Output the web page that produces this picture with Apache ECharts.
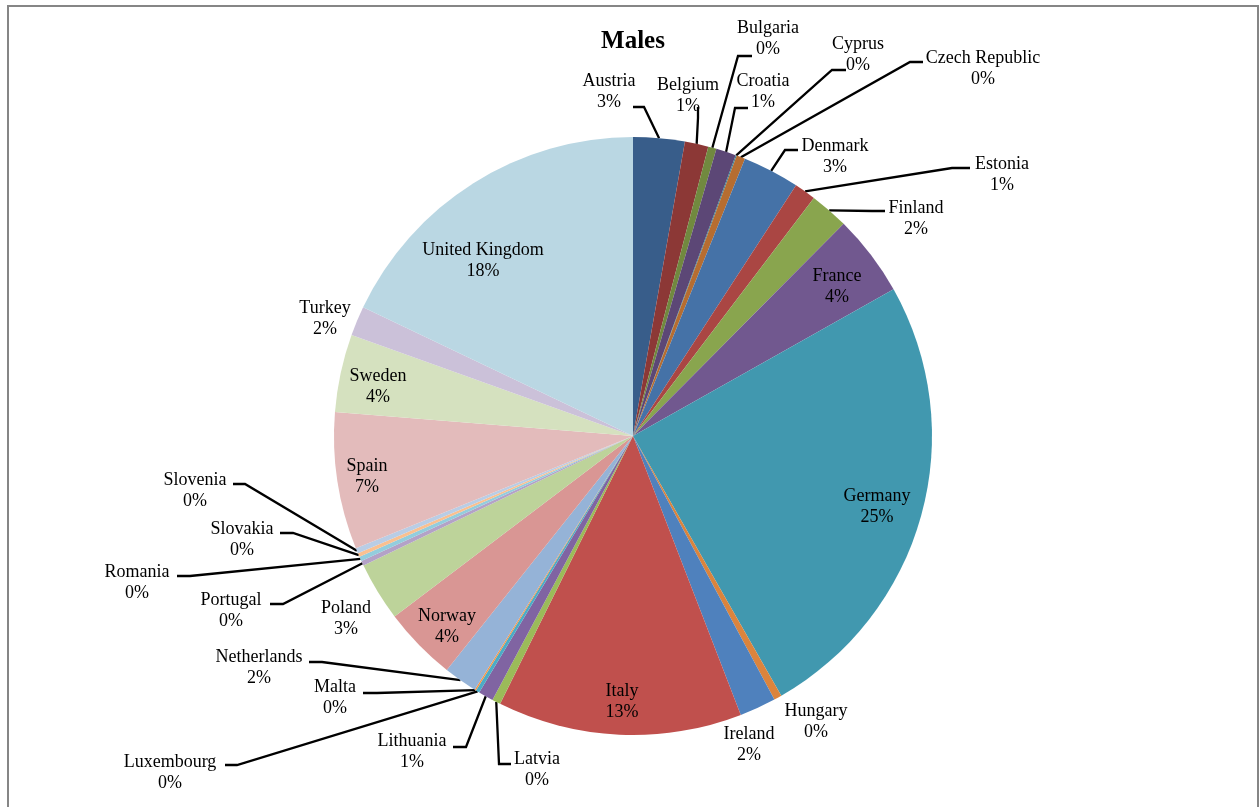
<!DOCTYPE html>
<html>
<head>
<meta charset="utf-8">
<script src="https://cdn.jsdelivr.net/npm/echarts@6/dist/echarts.min.js"></script>
<style>
html,body{margin:0;padding:0;background:#ffffff;}
#chart{width:1260px;height:807px;}
</style>
</head>
<body>
<div id="chart"></div>
<script>
// ---- data ----
const chartTitle = 'Males';
const countries = [
  'Austria','Belgium','Bulgaria','Croatia','Cyprus','Czech Republic','Denmark','Estonia','Finland','France',
  'Germany','Hungary','Ireland','Italy','Latvia','Lithuania','Luxembourg','Malta','Netherlands','Norway',
  'Poland','Portugal','Romania','Slovakia','Slovenia','Spain','Sweden','Turkey','United Kingdom'
];
const shares = [
  2.78, 1.27, 0.45, 1.08, 0.06, 0.47, 3.07, 1.16, 2.10, 4.40,
  24.90, 0.42, 1.97, 13.20, 0.46, 0.81, 0.20, 0.08, 1.82, 3.99,
  3.18, 0.26, 0.25, 0.20, 0.30, 7.40, 4.20, 1.60, 17.92
];

// ---- styles ----
const sliceColors = [
  '#385D8A','#8C3836','#71893F','#5C4776','#357D91','#B66D31',
  '#4572A7','#AA4643','#89A54E','#71588F','#4198AF','#DB843D',
  '#4F81BD','#C0504D','#9BBB59','#8064A2','#4BACC6','#F79646',
  '#95B3D7','#D99694','#BDD39A','#B3A2C7','#93CDDD','#FAC090',
  '#B9CDE5','#E3BBBB','#D5E1BF','#CBC1D9','#BAD7E3'
];
const fontFamily = '"Liberation Serif", "Times New Roman", serif';

// ---- label layout (text centres, leader line attach + bend points) ----
const labelSpots = {
  'Austria':[609,92], 'Belgium':[688,96], 'Bulgaria':[768,39], 'Croatia':[763,92],
  'Cyprus':[858,55], 'Czech Republic':[983,69], 'Denmark':[835,157], 'Estonia':[1002,175],
  'Finland':[916,219], 'France':[837,287], 'Germany':[877,507], 'Hungary':[816,722],
  'Ireland':[749,745], 'Italy':[622,702], 'Latvia':[537,770], 'Lithuania':[412,752],
  'Luxembourg':[170,773], 'Malta':[335,698], 'Netherlands':[259,668], 'Norway':[447,627],
  'Poland':[346,619], 'Portugal':[231,611], 'Romania':[137,583], 'Slovakia':[242,540],
  'Slovenia':[195,491], 'Spain':[367,477], 'Sweden':[378,387], 'Turkey':[325,319],
  'United Kingdom':[483,261]
};
const leaderSpots = { // [attachX, attachY, bendX, bendY]
  'Austria':[633,107,644,107], 'Belgium':[698,107,698,118], 'Bulgaria':[752,56,738,56],
  'Croatia':[748,108,735,108], 'Cyprus':[846,70,832,70], 'Czech Republic':[923,62,910,62],
  'Denmark':[798,150,785,150], 'Estonia':[970,168,952,168], 'Finland':[885,211,872,211],
  'Latvia':[511,764,499,764], 'Lithuania':[453,747,466,747], 'Luxembourg':[225,765,237,765],
  'Malta':[363,693,377,693], 'Netherlands':[309,662,322,662], 'Portugal':[270,604,283,604],
  'Romania':[177,576,190,576], 'Slovakia':[280,533,293,533], 'Slovenia':[233,484,245,484]
};

const chart = echarts.init(document.getElementById('chart'), null, {renderer:'canvas'});

const pieData = countries.map((name, i) => ({
  name: name,
  value: shares[i],
  itemStyle: {color: sliceColors[i]},
  labelLine: {show: !!leaderSpots[name]}
}));

chart.setOption({
  animation: false,
  backgroundColor: '#ffffff',
  title: {
    text: chartTitle,
    left: 633,
    top: 29,
    padding: 0,
    textAlign: 'center',
    textStyle: {fontFamily: fontFamily, fontSize: 25, fontWeight: 'bold', color: '#000'}
  },
  graphic: [{
    type: 'rect', silent: true, z: -1,
    shape: {x: 8, y: 6, width: 1250, height: 840},
    style: {fill: 'none', stroke: '#868686', lineWidth: 2}
  }],
  series: [{
    type: 'pie',
    center: [633, 436],
    radius: 299,
    startAngle: 90,
    clockwise: true,
    avoidLabelOverlap: false,
    minShowLabelAngle: 0,
    itemStyle: {borderWidth: 0},
    label: {
      show: true,
      position: 'outside',
      formatter: p => p.name + '\n' + Math.round(p.percent) + '%',
      color: '#000',
      fontFamily: fontFamily,
      fontSize: 18,
      lineHeight: 21
    },
    labelLine: {show: true, length: 10, length2: 10, smooth: false,
      lineStyle: {color: '#000', width: 2.3}},
    labelLayout: function (params) {
      const name = countries[params.dataIndex];
      const spot = labelSpots[name];
      const res = {x: spot[0], y: spot[1], align: 'center', verticalAlign: 'middle'};
      const lead = leaderSpots[name];
      if (lead && params.labelLinePoints) {
        const s = params.labelLinePoints[0];
        res.labelLinePoints = [[s[0], s[1]], [lead[2], lead[3]], [lead[0], lead[1]]];
      }
      return res;
    },
    emphasis: {disabled: true},
    data: pieData
  }]
});
</script>
</body>
</html>
